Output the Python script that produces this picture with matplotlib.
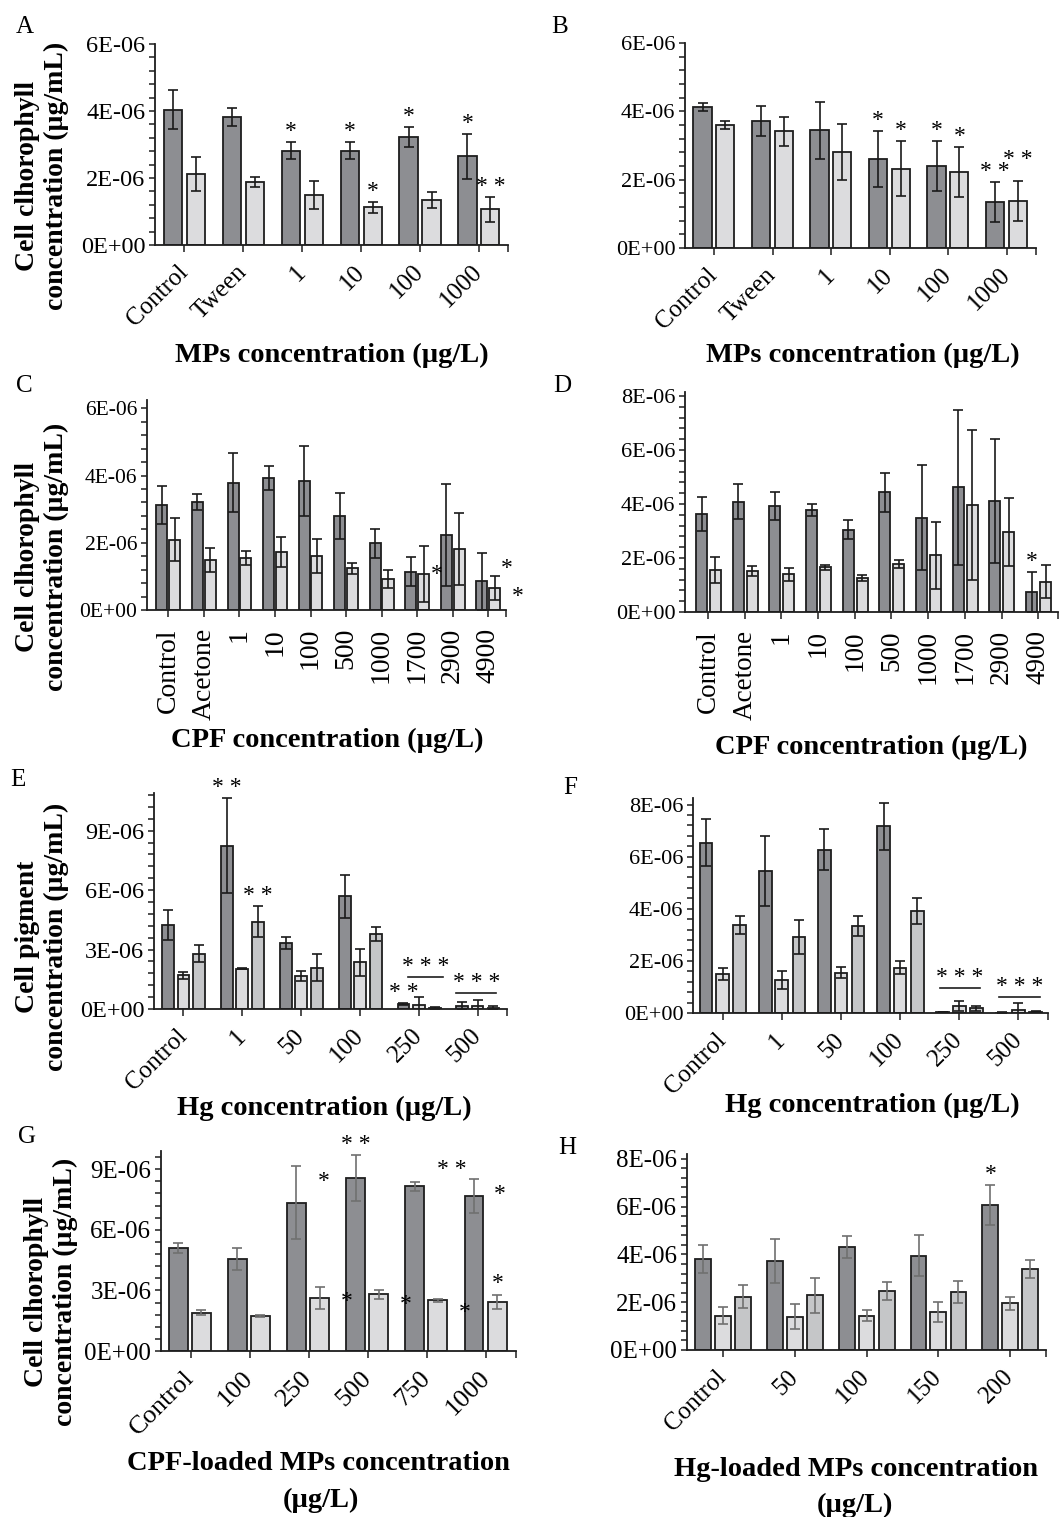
import numpy as np
import matplotlib
matplotlib.use('Agg')
import matplotlib.pyplot as plt
from matplotlib.ticker import MultipleLocator, FuncFormatter

W, H = 1061, 1517
plt.rcParams['font.family'] = ['Liberation Serif', 'DejaVu Serif']

DARK = '#8d8e92'
LIGHT = '#dcdcde'
MID = '#c5c6c8'

# values in 1E-06 ug/mL
mps_labels = ['Control', 'Tween', '1', '10', '100', '1000']
a_dark = [4.04, 3.82, 2.82, 2.82, 3.23, 2.65]
a_dark_err = [0.58, 0.26, 0.26, 0.26, 0.29, 0.67]
a_light = [2.13, 1.88, 1.49, 1.12, 1.33, 1.06]
a_light_err = [0.51, 0.16, 0.41, 0.15, 0.24, 0.36]

b_dark = [4.13, 3.72, 3.44, 2.60, 2.39, 1.35]
b_dark_err = [0.11, 0.43, 0.83, 0.81, 0.73, 0.58]
b_light = [3.60, 3.41, 2.80, 2.32, 2.22, 1.38]
b_light_err = [0.11, 0.42, 0.82, 0.81, 0.73, 0.58]

cpf_labels = ['Control', 'Acetone', '1', '10', '100', '500', '1000', '1700', '2900', '4900']
c_dark = [3.12, 3.22, 3.79, 3.93, 3.84, 2.79, 1.98, 1.14, 2.23, 0.85]
c_dark_err = [0.56, 0.24, 0.87, 0.35, 1.05, 0.68, 0.43, 0.43, 1.53, 0.86]
c_light = [2.09, 1.48, 1.55, 1.72, 1.60, 1.24, 0.93, 1.08, 1.82, 0.65]
c_light_err = [0.64, 0.36, 0.21, 0.45, 0.50, 0.16, 0.27, 0.83, 1.07, 0.35]

d_dark = [3.64, 4.09, 3.92, 3.79, 3.05, 4.43, 3.50, 4.62, 4.11, 0.74]
d_dark_err = [0.63, 0.65, 0.52, 0.22, 0.36, 0.73, 1.96, 2.88, 2.29, 0.74]
d_light = [1.54, 1.53, 1.39, 1.65, 1.26, 1.79, 2.10, 3.97, 2.96, 1.12]
d_light_err = [0.48, 0.19, 0.23, 0.10, 0.10, 0.15, 1.25, 2.79, 1.27, 0.61]

hg_labels = ['Control', '1', '50', '100', '250', '500']
e_dark = [4.24, 8.24, 3.31, 5.68, 0.27, 0.15]
e_dark_err = [0.78, 2.41, 0.30, 1.10, 0.05, 0.19]
e_light = [1.71, 2.04, 1.67, 2.35, 0.22, 0.17]
e_light_err = [0.18, 0.03, 0.24, 0.66, 0.39, 0.27]
e_mid = [2.80, 4.41, 2.08, 3.78, 0.05, 0.05]
e_mid_err = [0.41, 0.78, 0.68, 0.35, 0.03, 0.08]

f_dark = [6.53, 5.44, 6.26, 7.16, 0.03, 0.01]
f_dark_err = [0.90, 1.34, 0.79, 0.91, 0.01, 0.01]
f_light = [1.51, 1.28, 1.55, 1.74, 0.28, 0.10]
f_light_err = [0.23, 0.34, 0.20, 0.24, 0.19, 0.28]
f_mid = [3.38, 2.91, 3.34, 3.91, 0.18, 0.05]
f_mid_err = [0.33, 0.66, 0.40, 0.51, 0.10, 0.03]

g_labels = ['Control', '100', '250', '500', '750', '1000']
g_dark = [5.10, 4.55, 7.35, 8.56, 8.15, 7.65]
g_dark_err = [0.25, 0.54, 1.80, 1.12, 0.22, 0.84]
g_light = [1.89, 1.72, 2.63, 2.80, 2.50, 2.43]
g_light_err = [0.13, 0.05, 0.56, 0.23, 0.07, 0.33]

h_labels = ['Control', '50', '100', '150', '200']
h_dark = [3.80, 3.73, 4.31, 3.95, 6.08]
h_dark_err = [0.59, 0.91, 0.45, 0.85, 0.83]
h_light = [1.43, 1.39, 1.43, 1.60, 1.95]
h_light_err = [0.35, 0.53, 0.23, 0.42, 0.28]
h_mid = [2.23, 2.29, 2.46, 2.42, 3.38]
h_mid_err = [0.47, 0.73, 0.37, 0.47, 0.38]

# significance marks: (category, series, text, extra lift in points) above the error bar
a_sig = [(2, 0, '*', 0), (3, 0, '*', 0), (4, 0, '*', 0), (5, 0, '*', 0),
         (3, 1, '*', 0), (5, 1, '* *', 0)]
b_sig = [(3, 0, '*', 0), (3, 1, '*', 0), (4, 0, '*', 0), (4, 1, '*', 0),
         (5, 0, '* *', 0), (5, 1, '* *', 8)]
d_sig = [(9, 0, '*', 0)]
e_sig = [(1, 0, '* *', 0), (1, 2, '* *', 0), (4, 0, '* *', 0)]
g_sig = [(3, 0, '* *', 0)]
h_sig = [(4, 0, '*', 0)]
# free standing marks: (x, y, text)
c_free = [(7.56, 1.05, '*'), (9.52, 1.23, '*'), (9.83, 0.39, '*')]
g_free = [(2.25, 8.4, '*'), (2.64, 2.43, '*'), (3.64, 2.29, '*'), (4.41, 9.0, '* *'),
          (5.22, 7.75, '*'), (4.64, 1.89, '*'), (5.19, 3.33, '*')]
# bracketed marks: (x0, x1, y, text)
e_bracket = [(3.81, 4.41, 1.62, '* * *'), (4.64, 5.32, 0.81, '* * *')]
f_bracket = [(3.68, 4.35, 0.96, '* * *'), (4.67, 5.36, 0.61, '* * *')]

fig = plt.figure(figsize=(W / 100, H / 100), dpi=100)


def panel(box, labels, series, errs, colors, offsets, width, ymax, major,
          rot=45, xlim=None, ecolor='#1a1a1a', sig=(), free=(), brackets=(),
          ysize=17, xsize=18):
    l, t, r, b = box
    ax = fig.add_axes([l / W, 1 - b / H, (r - l) / W, (b - t) / H])
    x = np.arange(len(labels))
    tops = []
    for vals, err, c, off in zip(series, errs, colors, offsets):
        v = np.array(vals) * 1e-6
        e = np.array(err) * 1e-6
        ax.bar(x + off, v, width, yerr=e, color=c, edgecolor='#1e1e1e', linewidth=1.3,
               error_kw=dict(ecolor=ecolor, elinewidth=1.2, capsize=3.8, capthick=1.2),
               zorder=2)
        tops.append(v + e)
    if xlim is None:
        xlim = (-0.5, len(labels) - 0.5)
    ax.set_xlim(*xlim)
    ax.set_ylim(0, ymax * 1e-6)
    for s in ['top', 'right']:
        ax.spines[s].set_visible(False)
    for s in ['left', 'bottom']:
        ax.spines[s].set_linewidth(1.3)
        ax.spines[s].set_color('#1e1e1e')
    ax.yaxis.set_major_locator(MultipleLocator(major * 1e-6))
    ax.yaxis.set_minor_locator(MultipleLocator(major / 5 * 1e-6))
    ax.yaxis.set_major_formatter(FuncFormatter(lambda v, p: f'{v:.0E}'))
    ax.tick_params(axis='y', which='both', direction='out', length=4, width=1.1,
                   labelsize=ysize, pad=3, color='#1e1e1e')
    ax.set_xticks(x)
    ax.set_xticks([xlim[1]], minor=True)
    ax.tick_params(axis='x', which='both', direction='out', length=5, width=1.1,
                   labelsize=xsize, color='#1e1e1e')
    if rot == 90:
        ax.set_xticklabels(labels, rotation=90, ha='center', va='top')
        ax.tick_params(axis='x', pad=8)
    else:
        ax.set_xticklabels(labels, rotation=45, ha='right', va='center',
                           rotation_mode='anchor')
        ax.tick_params(axis='x', pad=12)
    for i, si, txt, dy in sig:
        ax.annotate(txt, (x[i] + offsets[si], tops[si][i]), xytext=(0, dy),
                    textcoords='offset points', ha='center', va='bottom',
                    fontsize=17, annotation_clip=False)
    for xx, yy, txt in free:
        ax.text(xx, yy * 1e-6, txt, ha='center', va='center', fontsize=17, clip_on=False)
    for x0, x1, yy, txt in brackets:
        ax.plot([x0, x1], [yy * 1e-6] * 2, color='#1e1e1e', lw=1.2, clip_on=False)
        ax.text((x0 + x1) / 2, yy * 1e-6, txt, ha='center', va='bottom', fontsize=17)
    return ax


two = (DARK, LIGHT)
three = (DARK, LIGHT, MID)

panel((155, 44, 508, 245), mps_labels, [a_dark, a_light], [a_dark_err, a_light_err],
      two, (-0.19, 0.2), 0.31, 6, 2, sig=a_sig, ysize=17.5, xsize=18)
panel((685, 43, 1036, 248), mps_labels, [b_dark, b_light], [b_dark_err, b_light_err],
      two, (-0.2, 0.19), 0.31, 6, 2, sig=b_sig, ysize=16, xsize=18)
panel((147, 400, 506, 610), cpf_labels, [c_dark, c_light], [c_dark_err, c_light_err],
      two, (-0.18, 0.18), 0.31, 6.25, 2, rot=90, xlim=(-0.6, 9.5), free=c_free,
      ysize=15.5, xsize=20)
panel((685, 392, 1058, 612), cpf_labels, [d_dark, d_light], [d_dark_err, d_light_err],
      two, (-0.18, 0.2), 0.3, 8.15, 2, rot=90, xlim=(-0.63, 9.54), sig=d_sig,
      ysize=16, xsize=19.5)
panel((154, 793, 507, 1009), hg_labels, [e_dark, e_light, e_mid],
      [e_dark_err, e_light_err, e_mid_err], three, (-0.26, 0, 0.27), 0.2, 10.9, 3,
      sig=e_sig, brackets=e_bracket, ysize=17.5, xsize=18)
panel((693, 798, 1048, 1013), hg_labels, [f_dark, f_light, f_mid],
      [f_dark_err, f_light_err, f_mid_err], three, (-0.28, 0, 0.29), 0.215, 8.25, 2,
      brackets=f_bracket, ysize=16, xsize=18)
panel((161, 1151, 516, 1351), g_labels, [g_dark, g_light], [g_dark_err, g_light_err],
      two, (-0.21, 0.18), 0.32, 9.9, 3, ecolor='#707070', sig=g_sig, free=g_free,
      ysize=18, xsize=19)
panel((687, 1154, 1046, 1350), h_labels, [h_dark, h_light, h_mid],
      [h_dark_err, h_light_err, h_mid_err], three, (-0.275, 0, 0.28), 0.22, 8.2, 2,
      ecolor='#707070', sig=h_sig, ysize=18, xsize=18)


def ftext(px, py, s, **kw):
    fig.text(px / W, 1 - py / H, s, **kw)


for letter, px, py in [('A', 25, 27), ('B', 560, 27), ('C', 24, 386), ('D', 562, 386),
                       ('E', 18, 780), ('F', 570, 788), ('G', 27, 1137), ('H', 567, 1148)]:
    ftext(px, py, letter, fontsize=18, ha='center', va='center')

ylab = dict(fontsize=20, fontweight='bold', rotation=90, ha='center', va='center',
            multialignment='center', linespacing=1.2)
ftext(42, 176, 'Cell clhorophyll\nconcentration (µg/mL)', **ylab)
ftext(42, 557, 'Cell clhorophyll\nconcentration (µg/mL)', **ylab)
ftext(42, 937, 'Cell pigment\nconcentration (µg/mL)', **ylab)
ftext(51, 1292, 'Cell clhorophyll\nconcentration (µg/mL)', **ylab)

xlab = dict(fontsize=20.5, fontweight='bold', ha='center', va='center')
ftext(332, 355, 'MPs concentration (µg/L)', **xlab)
ftext(863, 355, 'MPs concentration (µg/L)', **xlab)
ftext(327, 740, 'CPF concentration (µg/L)', **xlab)
ftext(871, 747, 'CPF concentration (µg/L)', **xlab)
ftext(324, 1108, 'Hg concentration (µg/L)', **xlab)
ftext(872, 1105, 'Hg concentration (µg/L)', **xlab)
ftext(318, 1463, 'CPF-loaded MPs concentration', **xlab)
ftext(321, 1500, '(µg/L)', **xlab)
ftext(856, 1470, 'Hg-loaded MPs concentration', **xlab)
ftext(855, 1505, '(µg/L)', **xlab)

fig.savefig('out.png', dpi=100)
